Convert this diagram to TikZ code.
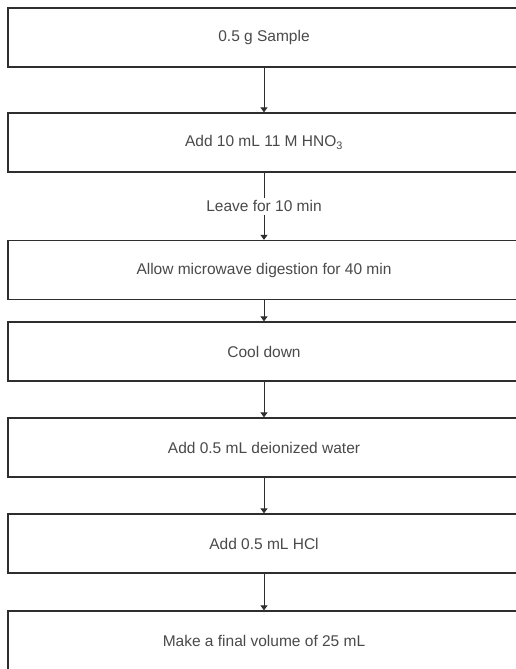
\documentclass[tikz,border=0pt]{standalone}
\usepackage{xcolor}
\usepackage{fontspec}
\setsansfont{Liberation Sans}
\usepackage{tikz}
\usetikzlibrary{arrows.meta}
\definecolor{flow-line}{HTML}{2E2E2E}
\definecolor{flow-text}{HTML}{4A4A4A}

\begin{document}
\begin{tikzpicture}[
    x=1pt, y=-1pt,
    box/.style={draw=flow-line, line width=1.3pt, minimum width=512pt, minimum height=59pt,
                text=flow-text, font=\sffamily\fontsize{15.5}{18}\selectfont, inner sep=0pt},
    arr/.style={-{Triangle[width=7pt, length=5pt]}, line width=1pt, flow-line},
    lbl/.style={font=\sffamily\fontsize{15.5}{18}\selectfont, text=flow-text, fill=white, inner sep=3pt},
]
    \clip (0, 0) rectangle (516, 669);
    \fill[white] (0, 0) rectangle (516, 669);

    % Steps
    \node[box] (sample)  at (264, 37.5)  {0.5 g Sample};
    \node[box] (nitric)  at (264, 142.5) {Add 10 mL 11 M HNO\textsubscript{3}};
    \node[box] (digest)  at (264, 270)   {Allow microwave digestion for 40 min};
    \node[box] (cool)    at (264, 351.5) {Cool down};
    \node[box] (water)   at (264, 447.5) {Add 0.5 mL deionized water};
    \node[box] (hcl)     at (264, 543.5) {Add 0.5 mL HCl};
    \node[box] (volume)  at (264, 640.5) {Make a final volume of 25 mL};

    % Arrows
    \draw[arr] (sample) -- (nitric);
    \draw[arr] (nitric) -- (digest) node[midway, lbl] {Leave for 10 min};
    \draw[arr] (digest) -- (cool);
    \draw[arr] (cool)   -- (water);
    \draw[arr] (water)  -- (hcl);
    \draw[arr] (hcl)    -- (volume);
\end{tikzpicture}
\end{document}
